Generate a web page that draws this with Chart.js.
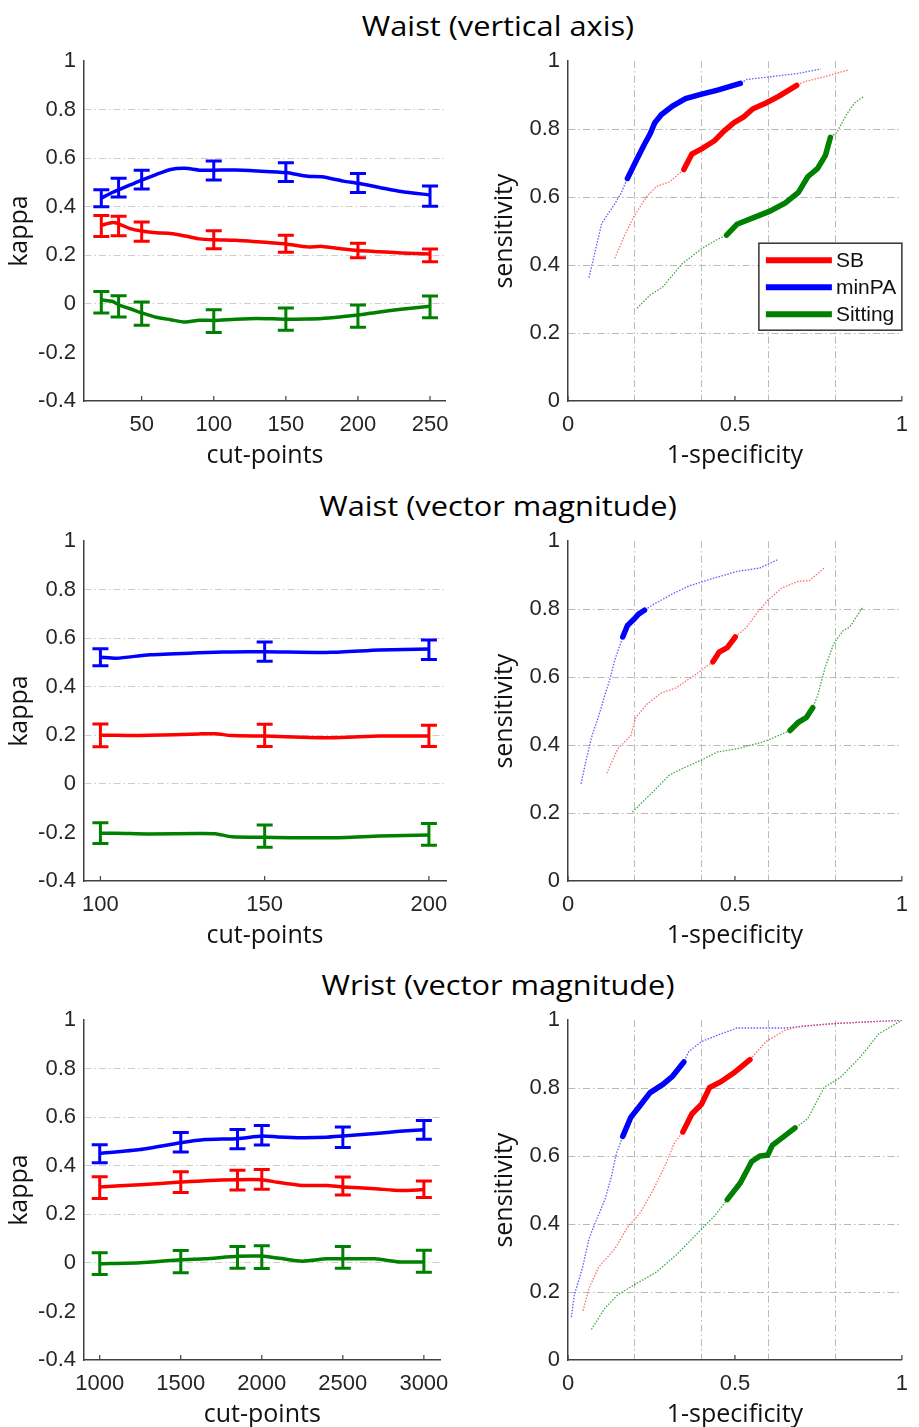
<!DOCTYPE html>
<html>
<head>
<meta charset="utf-8">
<script src="https://cdn.jsdelivr.net/npm/chart.js@4.4.1/dist/chart.umd.min.js"></script>
<style>
  body{margin:0;width:919px;height:1427px;overflow:hidden;background:#fff;position:relative;}
  .ttl{position:absolute;left:498px;transform:translateX(-50%) scaleX(1.14);white-space:nowrap;
       font:27px "Open Sans", Lato, sans-serif;line-height:30px;color:#000;}
  canvas{position:absolute;}
</style>
</head>
<body>
<div class="ttl" style="top:11px">Waist (vertical axis)</div>
<div class="ttl" style="top:491px">Waist (vector magnitude)</div>
<div class="ttl" style="top:970px">Wrist (vector magnitude)</div>

<canvas id="kA" width="460" height="440" style="left:0;top:40px"></canvas>
<canvas id="rB" width="459" height="440" style="left:460px;top:40px"></canvas>
<canvas id="kC" width="460" height="440" style="left:0;top:520px"></canvas>
<canvas id="rD" width="459" height="440" style="left:460px;top:520px"></canvas>
<canvas id="kE" width="460" height="440" style="left:0;top:999px"></canvas>
<canvas id="rF" width="459" height="440" style="left:460px;top:999px"></canvas>

<script>
/* ========= DATA ========= */
const seriesNames = ['SB', 'minPA', 'Sitting'];
const kappaTicks  = [-0.4, -0.2, 0, 0.2, 0.4, 0.6, 0.8, 1];
const kappaGrid   = [0, 0.2, 0.4, 0.6, 0.8];
const rocTicks    = [0, 0.2, 0.4, 0.5, 0.6, 0.8, 1];
const rocYTicks   = [0, 0.2, 0.4, 0.6, 0.8, 1];
const rocLabels   = [0, 0.5, 1];
const rocGrid     = [0.2, 0.4, 0.6, 0.8];

// Waist (vertical axis) - kappa vs cut-points
const cutA    = [22, 30, 34, 42, 50, 60, 70, 80, 90, 100, 115, 130, 150, 165, 175, 190, 200, 215, 230, 250];
const kapA_SB = [0.324, 0.335, 0.33, 0.31, 0.30, 0.293, 0.29, 0.28, 0.268, 0.264, 0.262, 0.256, 0.247, 0.235, 0.237, 0.226, 0.22, 0.215, 0.21, 0.206];
const kapA_PA = [0.436, 0.46, 0.47, 0.49, 0.51, 0.533, 0.554, 0.559, 0.551, 0.551, 0.552, 0.548, 0.541, 0.526, 0.524, 0.506, 0.497, 0.48, 0.463, 0.449];
const kapA_SI = [0.017, 0.01, -0.004, -0.02, -0.037, -0.055, -0.065, -0.075, -0.067, -0.068, -0.063, -0.06, -0.063, -0.062, -0.06, -0.052, -0.046, -0.033, -0.022, -0.01];
const ebA     = [22, 34, 50, 100, 150, 200, 250];
const ebA_SB  = [0.321, 0.321, 0.298, 0.264, 0.248, 0.22, 0.2];
const ebA_SBh = [0.043, 0.04, 0.04, 0.037, 0.035, 0.03, 0.026];
const ebA_PA  = [0.435, 0.479, 0.512, 0.55, 0.543, 0.498, 0.444];
const ebA_PAh = [0.035, 0.039, 0.039, 0.039, 0.039, 0.039, 0.042];
const ebA_SI  = [0.007, -0.01, -0.04, -0.071, -0.063, -0.05, -0.012];
const ebA_SIh = [0.044, 0.044, 0.048, 0.047, 0.046, 0.046, 0.045];
const cutTicksA = [50, 100, 150, 200, 250];

// Waist (vector magnitude) - kappa
const cutC    = [100, 105, 115, 130, 135, 140, 150, 170, 185, 200];
const kapC_SB = [0.2, 0.2, 0.2, 0.206, 0.207, 0.199, 0.197, 0.19, 0.197, 0.197];
const kapC_PA = [0.522, 0.518, 0.532, 0.54, 0.542, 0.544, 0.545, 0.542, 0.552, 0.556];
const kapC_SI = [-0.203, -0.203, -0.206, -0.204, -0.205, -0.218, -0.22, -0.222, -0.215, -0.21];
const ebC     = [100, 150, 200];
const ebC_SB  = [0.2, 0.2, 0.198];
const ebC_SBh = [0.047, 0.046, 0.044];
const ebC_PA  = [0.522, 0.545, 0.553];
const ebC_PAh = [0.035, 0.04, 0.04];
const ebC_SI  = [-0.203, -0.215, -0.208];
const ebC_SIh = [0.043, 0.046, 0.045];
const cutTicksC = [100, 150, 200];

// Wrist (vector magnitude) - kappa
const cutE    = [1000, 1250, 1500, 1650, 1850, 2000, 2100, 2250, 2400, 2500, 2700, 2850, 3000];
const kapE_SB = [0.313, 0.322, 0.333, 0.339, 0.343, 0.343, 0.332, 0.319, 0.319, 0.313, 0.306, 0.298, 0.302];
const kapE_PA = [0.451, 0.467, 0.495, 0.508, 0.512, 0.523, 0.519, 0.516, 0.518, 0.523, 0.533, 0.542, 0.549];
const kapE_SI = [-0.003, 0.001, 0.013, 0.017, 0.027, 0.028, 0.02, 0.007, 0.017, 0.017, 0.017, 0.004, 0.004];
const ebE     = [1000, 1500, 1850, 2000, 2500, 3000];
const ebE_SB  = [0.31, 0.333, 0.341, 0.344, 0.317, 0.303];
const ebE_SBh = [0.045, 0.043, 0.041, 0.041, 0.037, 0.034];
const ebE_PA  = [0.45, 0.497, 0.51, 0.526, 0.518, 0.548];
const ebE_PAh = [0.037, 0.04, 0.04, 0.04, 0.042, 0.039];
const ebE_SI  = [-0.003, 0.005, 0.023, 0.024, 0.023, 0.007];
const ebE_SIh = [0.045, 0.046, 0.045, 0.047, 0.045, 0.045];
const cutTicksE = [1000, 1500, 2000, 2500, 3000];

// ROC, Waist (vertical axis)
const rocB_SBx = [0.14, 0.169, 0.198, 0.236, 0.265, 0.304, 0.347, 0.371, 0.40, 0.439, 0.468, 0.497, 0.526, 0.554, 0.593, 0.632, 0.685, 0.709, 0.767, 0.839];
const rocB_SBy = [0.42, 0.486, 0.544, 0.602, 0.631, 0.645, 0.681, 0.727, 0.742, 0.766, 0.795, 0.819, 0.836, 0.86, 0.877, 0.897, 0.929, 0.94, 0.954, 0.974];
const rocB_PAx = [0.063, 0.101, 0.14, 0.159, 0.178, 0.207, 0.227, 0.246, 0.26, 0.28, 0.313, 0.352, 0.40, 0.448, 0.516, 0.535, 0.603, 0.69, 0.757];
const rocB_PAy = [0.363, 0.523, 0.58, 0.612, 0.655, 0.713, 0.752, 0.786, 0.819, 0.843, 0.868, 0.89, 0.903, 0.915, 0.935, 0.946, 0.954, 0.964, 0.977];
const rocB_SIx = [0.207, 0.246, 0.284, 0.342, 0.40, 0.448, 0.475, 0.506, 0.554, 0.603, 0.651, 0.69, 0.718, 0.747, 0.771, 0.786, 0.805, 0.834, 0.858, 0.887];
const rocB_SIy = [0.273, 0.312, 0.336, 0.404, 0.448, 0.476, 0.488, 0.52, 0.539, 0.558, 0.583, 0.614, 0.66, 0.684, 0.723, 0.776, 0.79, 0.843, 0.877, 0.897];
const boldB = [[0.347, 0.685], [0.178, 0.516], [0.475, 0.786]];  // SB, minPA, Sitting

// ROC, Waist (vector magnitude)
const rocD_SBx = [0.116, 0.149, 0.188, 0.203, 0.236, 0.28, 0.323, 0.381, 0.434, 0.453, 0.477, 0.501, 0.535, 0.564, 0.598, 0.641, 0.69, 0.723, 0.767];
const rocD_SBy = [0.317, 0.389, 0.428, 0.481, 0.52, 0.554, 0.568, 0.607, 0.645, 0.674, 0.687, 0.718, 0.747, 0.786, 0.826, 0.863, 0.882, 0.884, 0.921];
const rocD_PAx = [0.039, 0.053, 0.072, 0.092, 0.111, 0.125, 0.14, 0.164, 0.178, 0.198, 0.212, 0.229, 0.256, 0.313, 0.362, 0.429, 0.506, 0.574, 0.627];
const rocD_PAy = [0.286, 0.35, 0.428, 0.486, 0.549, 0.592, 0.65, 0.718, 0.752, 0.771, 0.786, 0.797, 0.814, 0.845, 0.868, 0.889, 0.911, 0.921, 0.945];
const rocD_SIx = [0.193, 0.256, 0.304, 0.342, 0.40, 0.448, 0.506, 0.583, 0.612, 0.665, 0.69, 0.714, 0.733, 0.747, 0.771, 0.796, 0.824, 0.844, 0.882];
const rocD_SIy = [0.203, 0.264, 0.312, 0.331, 0.356, 0.38, 0.389, 0.409, 0.42, 0.443, 0.467, 0.481, 0.51, 0.544, 0.631, 0.699, 0.737, 0.747, 0.805];
const boldD = [[0.434, 0.501], [0.164, 0.229], [0.665, 0.733]];

// ROC, Wrist (vector magnitude)
const rocF_SBx = [0.045, 0.063, 0.092, 0.14, 0.178, 0.217, 0.256, 0.294, 0.318, 0.344, 0.371, 0.40, 0.424, 0.458, 0.497, 0.545, 0.593, 0.651, 0.699, 0.796, 1];
const rocF_SBy = [0.145, 0.211, 0.274, 0.327, 0.39, 0.434, 0.502, 0.579, 0.637, 0.671, 0.724, 0.753, 0.802, 0.819, 0.845, 0.884, 0.937, 0.971, 0.983, 0.99, 1];
const rocF_PAx = [0.01, 0.019, 0.043, 0.063, 0.082, 0.111, 0.13, 0.145, 0.164, 0.188, 0.212, 0.246, 0.284, 0.313, 0.347, 0.362, 0.40, 0.448, 0.506, 0.651, 0.796, 1];
const rocF_PAy = [0.126, 0.192, 0.27, 0.357, 0.405, 0.473, 0.54, 0.608, 0.658, 0.714, 0.744, 0.787, 0.811, 0.835, 0.877, 0.908, 0.937, 0.956, 0.977, 0.977, 0.99, 1];
const rocF_SIx = [0.07, 0.111, 0.149, 0.207, 0.265, 0.323, 0.381, 0.439, 0.477, 0.516, 0.55, 0.574, 0.598, 0.612, 0.651, 0.68, 0.718, 0.767, 0.815, 0.873, 0.931, 1];
const rocF_SIy = [0.09, 0.153, 0.192, 0.226, 0.259, 0.308, 0.366, 0.424, 0.472, 0.521, 0.584, 0.6, 0.603, 0.632, 0.661, 0.683, 0.71, 0.802, 0.831, 0.889, 0.96, 1];
const boldF = [[0.344, 0.545], [0.164, 0.347], [0.477, 0.68]];

/* ========= STYLE ========= */
const COL  = ['#ff0000', '#0000ff', '#008000'];           // SB, minPA, Sitting
const THIN = ['rgba(255,60,60,0.75)', 'rgba(40,40,255,0.75)', 'rgba(0,140,0,0.75)'];
const tickFont  = {family: '"Liberation Sans", Arial, sans-serif', size: 22};
const titleFont = {family: '"Open Sans", Lato, sans-serif', size: 25};
const AXIS = '#404040';

/* ========= PLUGINS ========= */
// vertical error bars with caps
const errBars = {
  id: 'errBars',
  afterDatasetsDraw(chart, args, o) {
    if (!o.x) return;
    const {ctx, scales: {x, y}} = chart;
    ctx.save();
    ctx.lineWidth = 3;
    o.sets.forEach(s => {
      ctx.strokeStyle = s.color;
      o.x.forEach((v, i) => {
        const px = x.getPixelForValue(v);
        const lo = y.getPixelForValue(s.mean[i] - s.half[i]);
        const hi = y.getPixelForValue(s.mean[i] + s.half[i]);
        ctx.beginPath();
        ctx.moveTo(px, lo); ctx.lineTo(px, hi);
        ctx.moveTo(px - 8, lo); ctx.lineTo(px + 8, lo);
        ctx.moveTo(px - 8, hi); ctx.lineTo(px + 8, hi);
        ctx.stroke();
      });
    });
    ctx.restore();
  }
};

// little inward tick marks, matlab style
const inTicks = {
  id: 'inTicks',
  afterDraw(chart, args, o) {
    const {ctx, chartArea: a, scales: {x, y}} = chart;
    ctx.save();
    ctx.strokeStyle = AXIS; ctx.lineWidth = 1.2;
    ctx.beginPath();
    (o.xs || []).forEach(v => { const p = x.getPixelForValue(v); ctx.moveTo(p, a.bottom); ctx.lineTo(p, a.bottom - 5); });
    (o.ys || []).forEach(v => { const p = y.getPixelForValue(v); ctx.moveTo(a.left, p); ctx.lineTo(a.left + 5, p); });
    ctx.stroke();
    ctx.restore();
  }
};

// boxed legend inside the first ROC panel
const boxLegend = {
  id: 'boxLegend',
  afterDraw(chart, args, o) {
    if (!o.show) return;
    const {ctx, chartArea: a} = chart;
    const w = 143, h = 87, bx = a.right - w, by = a.top + 182;
    ctx.save();
    ctx.fillStyle = '#fff'; ctx.fillRect(bx, by, w, h);
    ctx.strokeStyle = '#333'; ctx.lineWidth = 1.5; ctx.strokeRect(bx, by, w, h);
    ctx.font = '21px "Liberation Sans", Arial, sans-serif';
    ctx.textBaseline = 'middle'; ctx.fillStyle = '#111';
    seriesNames.forEach((n, i) => {
      const ly = by + 17 + i * 27;
      ctx.strokeStyle = COL[i]; ctx.lineWidth = 6;
      ctx.beginPath(); ctx.moveTo(bx + 7, ly); ctx.lineTo(bx + 73, ly); ctx.stroke();
      ctx.fillText(n, bx + 77, ly + 1);
    });
    ctx.restore();
  }
};

/* ========= BUILDERS ========= */
const pts = (xs, ys) => xs.map((v, i) => ({x: v, y: ys[i]}));
const gridCol = (vals, c) => (c.tick && vals.includes(c.tick.value)) ? c.col : 'rgba(0,0,0,0)';

function axisY(ticks, grid, gcol, width, title, tpad, min, max) {
  return {
    type: 'linear', min, max,
    afterBuildTicks: s => { s.ticks = ticks.map(v => ({value: v})); },
    afterFit: s => { s.width = width; },
    ticks: {font: tickFont, color: '#262626', padding: 8, callback: v => String(v)},
    grid: {drawTicks: false, lineWidth: 1, color: c => gridCol(grid, {tick: c.tick, col: gcol})},
    border: {display: true, color: AXIS, width: 1.5, dash: [7, 3, 1.5, 3]},
    title: {display: true, text: title, font: titleFont, color: '#111', padding: {top: tpad, bottom: 0}}
  };
}
function axisX(ticks, labels, grid, gcol, title, min, max) {
  return {
    type: 'linear', min, max,
    afterBuildTicks: s => { s.ticks = ticks.map(v => ({value: v})); },
    afterFit: s => { s.height = 79; },
    ticks: {font: tickFont, color: '#262626', padding: 11, maxRotation: 0, autoSkip: false,
            callback: v => labels.includes(v) ? String(v) : ''},
    grid: {drawTicks: false, lineWidth: 1, color: c => gridCol(grid, {tick: c.tick, col: gcol})},
    border: {display: true, color: AXIS, width: 1.5, dash: [7, 3, 1.5, 3]},
    title: {display: true, text: title, font: titleFont, color: '#111', padding: {top: 0, bottom: 9}}
  };
}

function kappaChart(id, xs, lines, ebx, eb, xmin, xmax, xticks) {
  // lines / eb in order SB, minPA, Sitting
  const datasets = lines.map((ys, i) => ({
    data: pts(xs, ys), borderColor: COL[i], borderWidth: 3.5, showLine: true,
    pointRadius: 0, tension: 0.2, order: i === 1 ? 0 : 1
  }));
  new Chart(document.getElementById(id), {
    type: 'scatter',
    data: {datasets},
    options: {
      responsive: false, animation: false,
      layout: {padding: {top: 16, right: 14, left: 0, bottom: 0}},
      scales: {
        x: axisX(xticks, xticks, [], '#000', 'cut-points', xmin, xmax),
        y: axisY(kappaTicks, kappaGrid, '#cdcdcd', 84, 'kappa', 5, -0.4, 1)
      },
      plugins: {
        legend: {display: false}, tooltip: {enabled: false},
        errBars: {x: ebx, sets: eb.map((s, i) => ({mean: s[0], half: s[1], color: COL[i]}))},
        inTicks: {xs: xticks, ys: []}
      }
    },
    plugins: [errBars, inTicks]
  });
}

function rocChart(id, curves, bold, legend) {
  const datasets = [];
  curves.forEach(([xs, ys], i) => {
    datasets.push({data: pts(xs, ys), borderColor: THIN[i], borderWidth: 1.3, borderDash: [1.5, 1.5],
                   showLine: true, pointRadius: 0, order: 5});
    const seg = pts(xs, ys).filter(p => p.x >= bold[i][0] - 1e-9 && p.x <= bold[i][1] + 1e-9);
    datasets.push({data: seg, borderColor: COL[i], borderWidth: 5.5, showLine: true,
                   pointRadius: 0, borderCapStyle: 'round', order: 1});
  });
  new Chart(document.getElementById(id), {
    type: 'scatter',
    data: {datasets},
    options: {
      responsive: false, animation: false,
      layout: {padding: {top: 16, right: 5, left: 0, bottom: 0}},
      scales: {
        x: axisX(rocTicks, rocLabels, rocGrid, '#b9b9b9', '1-specificity', 0, 1),
        y: axisY(rocYTicks, rocGrid, '#b9b9b9', 108, 'sensitivity', 30, 0, 1)
      },
      plugins: {
        legend: {display: false}, tooltip: {enabled: false},
        boxLegend: {show: legend},
        inTicks: {xs: rocLabels, ys: []}
      }
    },
    plugins: [inTicks, boxLegend]
  });
}

/* ========= DRAW ========= */
kappaChart('kA', cutA, [kapA_SB, kapA_PA, kapA_SI], ebA,
  [[ebA_SB, ebA_SBh], [ebA_PA, ebA_PAh], [ebA_SI, ebA_SIh]], 10, 261, cutTicksA);
kappaChart('kC', cutC, [kapC_SB, kapC_PA, kapC_SI], ebC,
  [[ebC_SB, ebC_SBh], [ebC_PA, ebC_PAh], [ebC_SI, ebC_SIh]], 95, 205.2, cutTicksC);
kappaChart('kE', cutE, [kapE_SB, kapE_PA, kapE_SI], ebE,
  [[ebE_SB, ebE_SBh], [ebE_PA, ebE_PAh], [ebE_SI, ebE_SIh]], 903, 3103, cutTicksE);

rocChart('rB', [[rocB_SBx, rocB_SBy], [rocB_PAx, rocB_PAy], [rocB_SIx, rocB_SIy]], boldB, true);
rocChart('rD', [[rocD_SBx, rocD_SBy], [rocD_PAx, rocD_PAy], [rocD_SIx, rocD_SIy]], boldD, false);
rocChart('rF', [[rocF_SBx, rocF_SBy], [rocF_PAx, rocF_PAy], [rocF_SIx, rocF_SIy]], boldF, false);
</script>
</body>
</html>
